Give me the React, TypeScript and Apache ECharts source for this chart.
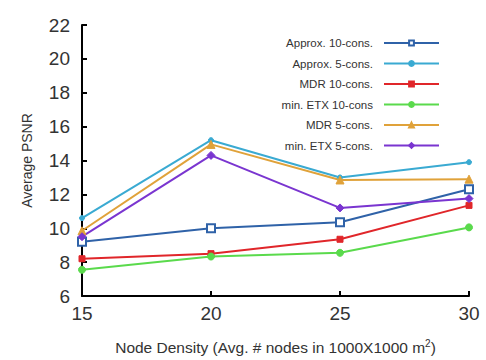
import React, { useEffect, useRef } from "react";
import * as echarts from "echarts";

const xValues = [15, 20, 25, 30];
const seriesNames = [
  "Approx. 10-cons.",
  "Approx. 5-cons.",
  "MDR 10-cons.",
  "min. ETX 10-cons",
  "MDR 5-cons.",
  "min. ETX 5-cons.",
];
const approx10 = [9.2, 10.0, 10.35, 12.3];
const approx5 = [10.6, 15.2, 13.0, 13.9];
const mdr10 = [8.2, 8.5, 9.35, 11.35];
const etx10 = [7.55, 8.33, 8.55, 10.05];
const mdr5 = [9.85, 14.95, 12.85, 12.9];
const etx5 = [9.5, 14.3, 11.2, 11.75];

const allValues = [approx10, approx5, mdr10, etx10, mdr5, etx5];
const colors = ["#2f62a8", "#3aaad2", "#e0262a", "#5ada4c", "#e0a23a", "#7a35d0"];
const symbols = ["emptyRect", "circle", "rect", "circle", "triangle", "diamond"];
const symbolSizes = [8, 5, 6, 7, 8, 8];

export default function App() {
  const ref = useRef<HTMLDivElement>(null);
  useEffect(() => {
    if (!ref.current) return;
    const chart = echarts.init(ref.current, undefined, { renderer: "svg" });
    const font = "Liberation Sans, Arial, sans-serif";
    chart.setOption({
      animation: false,
      textStyle: { fontFamily: font },
      grid: { left: 82, right: 17, top: 25, bottom: 63 },
      legend: {
        orient: "vertical",
        align: "right",
        right: 41,
        top: 32,
        itemWidth: 55,
        itemHeight: 6,
        itemGap: 8.5,
        textStyle: { fontSize: 11.5, color: "#333", fontFamily: font, padding: [0, 6, 0, 0] },
        data: seriesNames,
      },
      xAxis: {
        type: "value",
        min: 15,
        max: 30,
        interval: 5,
        name: "Node Density (Avg. # nodes in 1000X1000 m{sup|2})",
        nameLocation: "middle",
        nameGap: 42,
        nameTextStyle: {
          fontSize: 15.5,
          color: "#333",
          rich: { sup: { fontSize: 10, verticalAlign: "top", padding: [0, 0, 8, 0], color: "#333" } },
        },
        axisLine: { lineStyle: { color: "#000", width: 2 } },
        axisTick: { inside: true, length: 5, lineStyle: { color: "#000", width: 2 } },
        axisLabel: { fontSize: 19, color: "#333", margin: 8 },
        splitLine: { show: false },
      },
      yAxis: {
        type: "value",
        min: 6,
        max: 22,
        interval: 2,
        name: "Average PSNR",
        nameLocation: "middle",
        nameGap: 48,
        nameTextStyle: { fontSize: 14, color: "#333" },
        axisLine: { show: true, lineStyle: { color: "#000", width: 2 } },
        axisTick: { show: true, inside: true, length: 5, lineStyle: { color: "#000", width: 2 } },
        axisLabel: { fontSize: 19, color: "#333", margin: 12 },
        splitLine: { show: false },
      },
      series: seriesNames.map((name, i) => ({
        name,
        type: "line",
        data: xValues.map((x, j) => [x, allValues[i][j]]),
        color: colors[i],
        symbol: symbols[i],
        symbolSize: symbolSizes[i],
        showAllSymbol: true,
        lineStyle: { width: 2, color: colors[i] },
        itemStyle: { color: colors[i], borderColor: colors[i], borderWidth: i === 0 ? 2 : 1 },
      })),
    });
    return () => chart.dispose();
  }, []);
  return <div ref={ref} style={{ width: 486, height: 360, position: "absolute", left: 0, top: 0 }} />;
}
